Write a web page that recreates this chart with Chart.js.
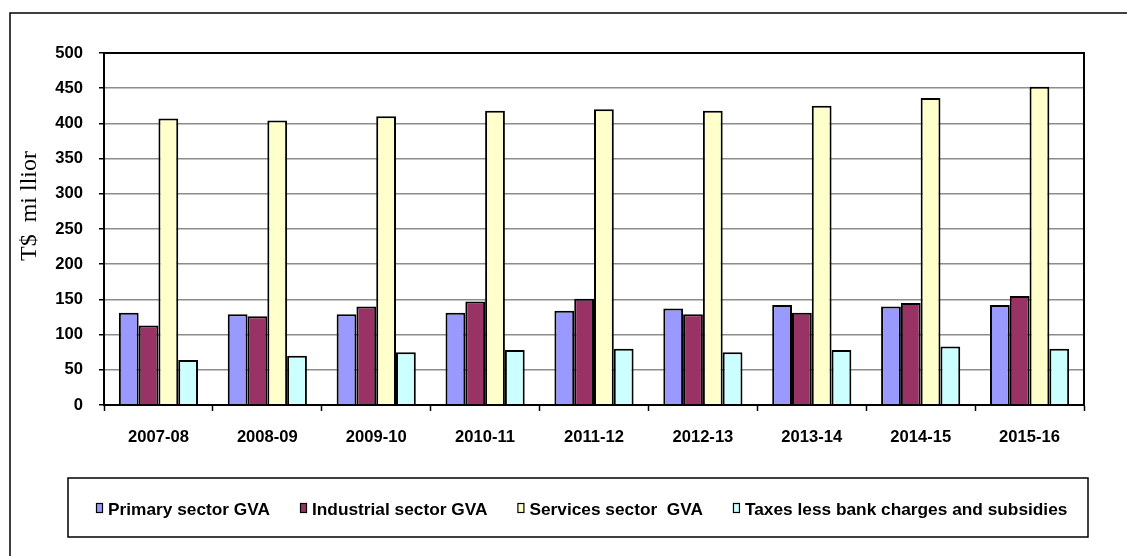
<!DOCTYPE html>
<html>
<head>
<meta charset="utf-8">
<title>GVA by sector</title>
<script src="https://cdn.jsdelivr.net/npm/chart.js@4.4.1/dist/chart.umd.min.js"></script>
<style>
  html, body { margin: 0; padding: 0; background: #fff; }
  #wrap { width: 1127px; height: 556px; }
</style>
</head>
<body>
<div id="wrap"><canvas id="gvaChart" width="1127" height="556"></canvas></div>
<script>
// Dados por ano fiscal (T$ milhões)
var years = ['2007-08', '2008-09', '2009-10', '2010-11', '2011-12', '2012-13', '2013-14', '2014-15', '2015-16'];
var primaryGVA    = [131, 129, 129, 131, 134, 137, 142, 140, 142];
var industrialGVA = [113, 126, 140, 147, 151, 129, 131, 145, 155];
var servicesGVA   = [407, 404, 410, 418, 420, 418, 425, 436, 452];
var taxesNet      = [64, 70, 75, 78, 80, 75, 78, 83, 80];
var yTicks = [0, 50, 100, 150, 200, 250, 300, 350, 400, 450, 500];

var seriesNames = ['Primary sector GVA', 'Industrial sector GVA', 'Services sector  GVA', 'Taxes less bank charges and subsidies'];
var seriesColors = ['#9999ff', '#993366', '#ffffcc', '#ccffff'];
var yTitle = 'T$  mi llior';

Chart.defaults.font.family = '"Liberation Sans", Arial, sans-serif';
Chart.defaults.color = '#000';

// moldura externa, borda da área do gráfico, título do eixo Y e legenda em caixa
var framePlugin = {
    id: 'frame',
    afterDraw: function(chart) {
        var ctx = chart.ctx;
        var a = chart.chartArea;
        ctx.save();
        ctx.strokeStyle = '#000';
        ctx.lineWidth = 1.5;
        ctx.beginPath();
        ctx.moveTo(10, 556);
        ctx.lineTo(10, 13);
        ctx.lineTo(1127, 13);
        ctx.stroke();

        ctx.lineWidth = 2;
        ctx.strokeRect(a.left, a.top, a.right - a.left, a.bottom - a.top);

        // título do eixo Y
        ctx.translate(36, 206);
        ctx.rotate(-Math.PI / 2);
        ctx.font = '24px "Liberation Serif", "Times New Roman", serif';
        ctx.textAlign = 'center';
        ctx.textBaseline = 'alphabetic';
        ctx.fillStyle = '#000';
        ctx.fillText(yTitle, 0, 0);
        ctx.restore();

        // legenda
        ctx.save();
        ctx.strokeStyle = '#000';
        ctx.lineWidth = 1.5;
        ctx.strokeRect(68, 478, 1020, 59);
        ctx.font = 'bold 17.3px "Liberation Sans", Arial, sans-serif';
        ctx.textBaseline = 'alphabetic';
        ctx.textAlign = 'left';
        var x = 96;
        chart.data.datasets.forEach(function(ds) {
            ctx.fillStyle = ds.backgroundColor;
            ctx.fillRect(x, 503, 7, 10);
            ctx.lineWidth = 1.2;
            ctx.strokeRect(x + 0.5, 503.5, 6, 9);
            ctx.fillStyle = '#000';
            ctx.fillText(ds.label, x + 12, 515);
            x += 12 + ctx.measureText(ds.label).width + 30;
        });
        ctx.restore();
    }
};

var datasets = [primaryGVA, industrialGVA, servicesGVA, taxesNet].map(function(vals, i) {
    return {
        label: seriesNames[i],
        data: vals,
        backgroundColor: seriesColors[i],
        borderColor: '#000',
        borderWidth: 2,
        categoryPercentage: 0.727,
        barPercentage: 1
    };
});

var ctx = document.getElementById('gvaChart').getContext('2d');
var gvaChart = new Chart(ctx, {
    type: 'bar',
    data: { labels: years, datasets: datasets },
    options: {
        responsive: false,
        animation: false,
        devicePixelRatio: 1,
        layout: { padding: { left: 10, top: 53, right: 43, bottom: 101 } },
        plugins: {
            legend: { display: false },
            tooltip: { enabled: false }
        },
        scales: {
            x: {
                grid: {
                    offset: true,
                    drawOnChartArea: false,
                    drawTicks: true,
                    tickLength: 6,
                    tickColor: '#000',
                    tickWidth: 1.5
                },
                border: { color: '#000', width: 2 },
                ticks: {
                    font: { size: 16.6, weight: 'bold' },
                    padding: 16,
                    maxRotation: 0
                },
                afterFit: function(scale) { scale.height = 50; }
            },
            y: {
                min: 0,
                max: 500,
                afterBuildTicks: function(scale) {
                    scale.ticks = yTicks.map(function(v) { return { value: v }; });
                },
                grid: {
                    color: '#8c8c8c',
                    lineWidth: 1.5,
                    tickLength: 5,
                    tickColor: '#000',
                    tickWidth: 1.5
                },
                border: { color: '#000', width: 2 },
                ticks: {
                    font: { size: 16.6, weight: 'bold' },
                    padding: 16
                },
                afterFit: function(scale) { scale.width = 94; }
            }
        }
    },
    plugins: [framePlugin]
});
</script>
</body>
</html>
